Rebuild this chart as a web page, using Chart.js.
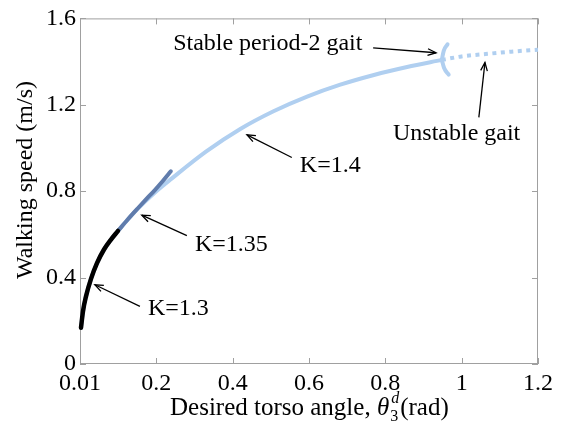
<!DOCTYPE html>
<html>
<head>
<meta charset="utf-8">
<script src="https://cdn.jsdelivr.net/npm/chart.js@4"></script>
<style>
  html, body { margin: 0; padding: 0; background: #fff; }
  canvas { display: block; }
</style>
</head>
<body>
<canvas id="chart" width="566" height="428"></canvas>
<script>
// curve data (torso angle in rad, speed in m/s)
const k13X = [0.0026, 0.0079, 0.0157, 0.0288, 0.0445, 0.0629, 0.0812, 0.0995];
const k13Y = [0.168, 0.245, 0.313, 0.394, 0.467, 0.530, 0.576, 0.616];

const k135X = [0.0995, 0.125, 0.151, 0.173, 0.195, 0.217, 0.238];
const k135Y = [0.616, 0.669, 0.72, 0.762, 0.803, 0.847, 0.892];

const k14X = [0.0026, 0.0079, 0.0157, 0.0288, 0.0445, 0.0629, 0.0812, 0.0995, 0.151, 0.195, 0.24, 0.33, 0.42, 0.507, 0.595, 0.682, 0.77, 0.857, 0.948];
const k14Y = [0.168, 0.245, 0.313, 0.394, 0.467, 0.530, 0.576, 0.616, 0.718, 0.792, 0.858, 0.983, 1.088, 1.17, 1.238, 1.293, 1.338, 1.375, 1.408];

const unstableX = [0.948, 1.0, 1.068, 1.13, 1.2];
const unstableY = [1.408, 1.424, 1.436, 1.446, 1.455];

const branchUpX = [0.948, 0.953, 0.963];
const branchUpY = [1.408, 1.45, 1.48];
const branchDownX = [0.948, 0.954, 0.966];
const branchDownY = [1.408, 1.37, 1.34];

const xTicks = [0, 0.2, 0.4, 0.6, 0.8, 1, 1.2];
const xTickLabels = ['0.01', '0.2', '0.4', '0.6', '0.8', '1', '1.2'];
const yTicks = [0, 0.4, 0.8, 1.2, 1.6];
const yTickLabels = ['0', '0.4', '0.8', '1.2', '1.6'];

// annotation text + arrows, in data units
const notes = [
  { text: 'Stable period-2 gait', at: [0.244, 1.482], from: [0.768, 1.464], to: [0.933, 1.441] },
  { text: 'Unstable gait', at: [0.820, 1.065], from: [1.045, 1.142], to: [1.061, 1.396] },
  { text: 'K=1.4', at: [0.576, 0.916], from: [0.555, 0.956], to: [0.4375, 1.061] },
  { text: 'K=1.35', at: [0.301, 0.553], from: [0.280, 0.594], to: [0.162, 0.689] },
  { text: 'K=1.3', at: [0.178, 0.258], from: [0.157, 0.267], to: [0.039, 0.367] }
];

const SERIF = '"Liberation Serif", "Times New Roman", serif';
const LIGHT = 'rgb(176, 207, 240)';
const STEEL = 'rgb(96, 124, 172)';
const AXIS = 'rgb(160, 160, 160)';

const pts = (xs, ys) => xs.map((v, i) => ({ x: v, y: ys[i] }));

function line(xs, ys, color, width, order, extra) {
  return Object.assign({
    data: pts(xs, ys),
    borderColor: color,
    borderWidth: width,
    pointRadius: 0,
    showLine: true,
    fill: false,
    cubicInterpolationMode: 'monotone',
    borderCapStyle: 'round',
    clip: 6,
    order: order
  }, extra || {});
}

function arrow(ctx, x1, y1, x2, y2) {
  const ang = Math.atan2(y2 - y1, x2 - x1);
  const len = 9, spread = 0.38;
  ctx.beginPath();
  ctx.moveTo(x1, y1);
  ctx.lineTo(x2, y2);
  ctx.stroke();
  ctx.beginPath();
  ctx.moveTo(x2 - len * Math.cos(ang - spread), y2 - len * Math.sin(ang - spread));
  ctx.lineTo(x2, y2);
  ctx.lineTo(x2 - len * Math.cos(ang + spread), y2 - len * Math.sin(ang + spread));
  ctx.stroke();
}

const frame = {
  id: 'frame',
  beforeDatasetsDraw(chart) {
    const { ctx, chartArea: a, scales: { x, y } } = chart;
    ctx.save();
    ctx.strokeStyle = AXIS;
    ctx.lineWidth = 1;
    ctx.strokeRect(a.left + 0.5, a.top + 0.5, a.right - a.left - 1, a.bottom - a.top - 1);
    ctx.beginPath();
    xTicks.forEach(v => {
      const px = Math.round(x.getPixelForValue(v)) + 0.5;
      ctx.moveTo(px, a.bottom); ctx.lineTo(px, a.bottom - 6);
      ctx.moveTo(px, a.top); ctx.lineTo(px, a.top + 6);
    });
    yTicks.forEach(v => {
      const py = Math.round(y.getPixelForValue(v)) + 0.5;
      ctx.moveTo(a.left, py); ctx.lineTo(a.left + 6, py);
      ctx.moveTo(a.right, py); ctx.lineTo(a.right - 6, py);
    });
    ctx.stroke();
    ctx.restore();
  },
  afterDraw(chart) {
    const { ctx, chartArea: a, scales: { x, y } } = chart;
    ctx.save();
    ctx.fillStyle = '#000';
    ctx.strokeStyle = '#000';
    ctx.lineWidth = 1.3;
    ctx.font = '24px ' + SERIF;
    ctx.textBaseline = 'middle';
    ctx.textAlign = 'left';
    notes.forEach(n => {
      ctx.fillText(n.text, x.getPixelForValue(n.at[0]), y.getPixelForValue(n.at[1]));
      arrow(ctx, x.getPixelForValue(n.from[0]), y.getPixelForValue(n.from[1]),
        x.getPixelForValue(n.to[0]), y.getPixelForValue(n.to[1]));
    });

    // y axis title
    ctx.save();
    ctx.translate(26, 180);
    ctx.rotate(-Math.PI / 2);
    ctx.textAlign = 'center';
    ctx.font = '24px ' + SERIF;
    ctx.fillText('Walking speed (m/s)', 0, 0);
    ctx.restore();

    // x axis title with theta_3^d
    ctx.textBaseline = 'alphabetic';
    const base = 415;
    let cx = 170;
    ctx.font = '25px ' + SERIF;
    const p1 = 'Desired torso angle, ';
    ctx.fillText(p1, cx, base); cx += ctx.measureText(p1).width;
    ctx.font = 'italic 25px ' + SERIF;
    ctx.fillText('\u03b8', cx, base); cx += ctx.measureText('\u03b8').width;
    ctx.font = '16px ' + SERIF;
    ctx.fillText('3', cx + 1, base + 6);
    const ws = ctx.measureText('3').width;
    ctx.font = 'italic 16px ' + SERIF;
    ctx.fillText('d', cx + 2, base - 12);
    const wd = ctx.measureText('d').width;
    cx += Math.max(ws, wd) + 3;
    ctx.font = '25px ' + SERIF;
    ctx.fillText('(rad)', cx, base);
    ctx.restore();
  }
};

const ctx = document.getElementById('chart').getContext('2d');
const chart = new Chart(ctx, {
  type: 'scatter',
  data: {
    datasets: [
      line(k13X, k13Y, '#000', 4.5, 1),
      line(k135X, k135Y, STEEL, 4, 2),
      line(k14X, k14Y, LIGHT, 4, 3),
      line(unstableX, unstableY, LIGHT, 4, 4, { borderDash: [4, 4.5], borderCapStyle: 'butt' }),
      line(branchUpX, branchUpY, LIGHT, 4, 4),
      line(branchDownX, branchDownY, LIGHT, 4, 4)
    ]
  },
  options: {
    responsive: false,
    animation: false,
    devicePixelRatio: 1,
    layout: { padding: { left: 0, right: 28, top: 11, bottom: 0 } },
    plugins: { legend: { display: false }, tooltip: { enabled: false } },
    scales: {
      x: {
        type: 'linear',
        min: 0, max: 1.2,
        grid: { display: false, tickLength: 0 },
        border: { display: false },
        afterBuildTicks: s => { s.ticks = xTicks.map(v => ({ value: v })); },
        afterFit: s => { s.height = 64; },
        ticks: {
          color: '#000',
          font: { family: SERIF, size: 24 },
          padding: 5,
          maxRotation: 0,
          autoSkip: false,
          callback: (v, i) => xTickLabels[i]
        }
      },
      y: {
        type: 'linear',
        min: 0, max: 1.6,
        grid: { display: false, tickLength: 0 },
        border: { display: false },
        afterBuildTicks: s => { s.ticks = yTicks.map(v => ({ value: v })); },
        afterFit: s => { s.width = 80; },
        ticks: {
          color: '#000',
          font: { family: SERIF, size: 24 },
          padding: 4,
          autoSkip: false,
          callback: (v, i) => yTickLabels[i]
        }
      }
    }
  },
  plugins: [frame]
});
</script>
</body>
</html>
